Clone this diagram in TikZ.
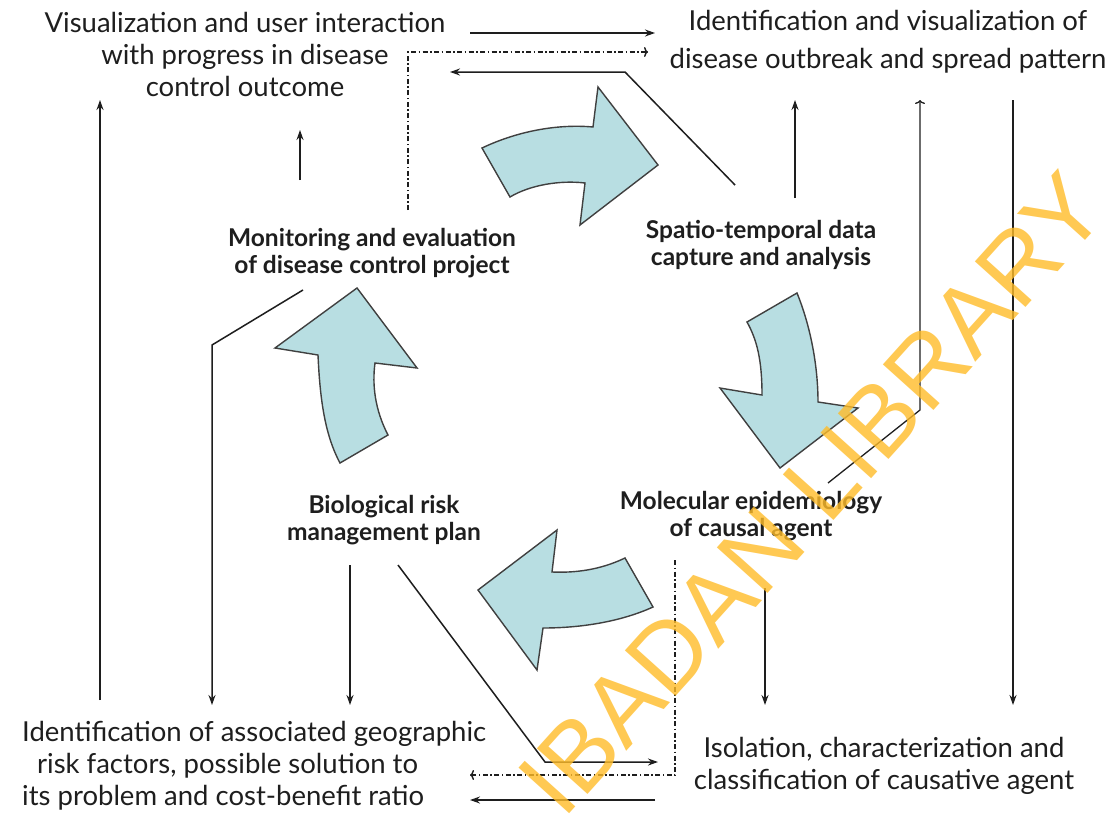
\documentclass[tikz,border=0pt]{standalone}
\usepackage{fontspec}
\setmainfont{Lato}
\newfontfamily\wmfont{Liberation Sans}
\usetikzlibrary{arrows.meta}
\definecolor{arrowfill}{RGB}{184,222,226}
\definecolor{wmcol}{RGB}{255,188,40}
\definecolor{ink}{RGB}{30,30,30}
\begin{document}
\begin{tikzpicture}[x=1pt,y=-1pt,
  cornertext/.style={font=\fontsize{27.5}{32}\selectfont, align=center, inner sep=0pt, text=ink},
  midlabel/.style={font=\fontsize{24.5}{27}\selectfont\bfseries, align=center, inner sep=0pt, text=ink},
  conn/.style={line width=1.5pt, draw=ink},
  sarrow/.style={conn, -{Stealth[length=10pt,width=7pt]}},
  oarrow/.style={line width=1.3pt, draw=ink, -{To[length=4pt,width=10pt]}},
  dd/.style={line width=1.4pt, draw=ink, dash pattern=on 5pt off 2.5pt on 1.5pt off 2.5pt},
  bigarrow/.style={fill=arrowfill, draw=black!75, line width=1.4pt, line join=miter}
]
\useasboundingbox[fill=white] (0,0) rectangle (1118,819);

% corner texts
\node[cornertext] (tl) at (245,54) {Visualization and user interaction\\with progress in disease\\control outcome};
\node[cornertext] (tr) at (888,42) {Identification and visualization of\\[6pt]disease outbreak and spread pattern};
\node[cornertext, align=left, anchor=west] (bl) at (22,766) {Identification of associated geographic\\\hspace*{15pt}risk factors, possible solution to\\its problem and cost-benefit ratio};
\node[cornertext] (br) at (884,766) {Isolation, characterization and\\classification of causative agent};

% centre labels
\node[midlabel] (mon) at (372,253) {Monitoring and evaluation\\of disease control project};
\node[midlabel] (spa) at (761,245) {Spatio-temporal data\\capture and analysis};
\node[midlabel] (bio) at (384,520) {Biological risk\\management plan};
\node[midlabel] (mol) at (751,516) {Molecular epidemiology\\of causal agent};

% curved block arrows
\draw[bigarrow] (482,148) .. controls (520,130) and (560,124) .. (593,127)
  -- (598,87) -- (658,165) -- (580,225) -- (585,183)
  .. controls (560,180) and (530,185) .. (510,197) -- cycle;
\draw[bigarrow] (797,293) .. controls (812,330) and (818,370) .. (818,402)
  -- (858,408) -- (780,468) -- (720,388) -- (762,395)
  .. controls (762,360) and (757,340) .. (747,322) -- cycle;
\draw[bigarrow] (653,607) .. controls (620,622) and (580,628) .. (543,628)
  -- (537,670) -- (478,590) -- (557,530) -- (552,572)
  .. controls (575,573) and (600,570) .. (625,558) -- cycle;
\draw[bigarrow] (340,463) .. controls (325,435) and (320,400) .. (318,355)
  -- (275,348) -- (357,288) -- (417,368) -- (375,363)
  .. controls (372,385) and (375,410) .. (388,435) -- cycle;

% connector end points
\coordinate (tlA) at (470,33);   \coordinate (trA) at (655,33);
\coordinate (monD) at (408,210); \coordinate (kD) at (408,52); \coordinate (trD) at (648,52);
\coordinate (spaS) at (735,185); \coordinate (kS) at (625,72); \coordinate (tlS) at (450,72);
\coordinate (blU) at (100,700);  \coordinate (tlU) at (100,100);
\coordinate (monU) at (300,180); \coordinate (tlM) at (300,130);
\coordinate (monB) at (303,290); \coordinate (kB) at (212,345); \coordinate (blB) at (212,705);
\coordinate (spaU) at (795,198); \coordinate (trU) at (795,100);
\coordinate (molU) at (828,483); \coordinate (kM) at (920,410); \coordinate (trM) at (920,100);
\coordinate (trR) at (1013,100); \coordinate (brR) at (1013,705);
\coordinate (bioD) at (350,565); \coordinate (blD) at (350,705);
\coordinate (bioR) at (398,565); \coordinate (kR) at (545,762); \coordinate (brL) at (658,762);
\coordinate (molD) at (675,560); \coordinate (kL) at (675,775); \coordinate (blL) at (470,775);
\coordinate (brB) at (655,800);  \coordinate (blR) at (470,800);
\coordinate (molB) at (765,588); \coordinate (brT) at (765,705);

% connectors
\draw[sarrow] (tlA) -- (trA);
\draw[dd, -{To[length=4pt,width=10pt]}] (monD) -- (kD) -- (trD);
\draw[sarrow] (spaS) -- (kS) -- (tlS);
\draw[sarrow] (blU) -- (tlU);
\draw[sarrow] (monU) -- (tlM);
\draw[sarrow] (monB) -- (kB) -- (blB);
\draw[sarrow] (spaU) -- (trU);
\draw[oarrow] (molU) -- (kM) -- (trM);
\draw[sarrow] (trR) -- (brR);
\draw[sarrow] (bioD) -- (blD);
\draw[sarrow] (bioR) -- (kR) -- (brL);
\draw[dd, -{To[length=4pt,width=10pt]}] (molD) -- (kL) -- (blL);
\draw[sarrow] (brB) -- (blR);
\draw[sarrow] (molB) -- (brT);

% watermark
\node[text=wmcol, opacity=0.8, rotate=48, font=\wmfont\fontsize{99}{99}\selectfont, inner sep=0pt] (wm) at (812,494) {IBADAN LIBRARY};
\end{tikzpicture}
\end{document}
